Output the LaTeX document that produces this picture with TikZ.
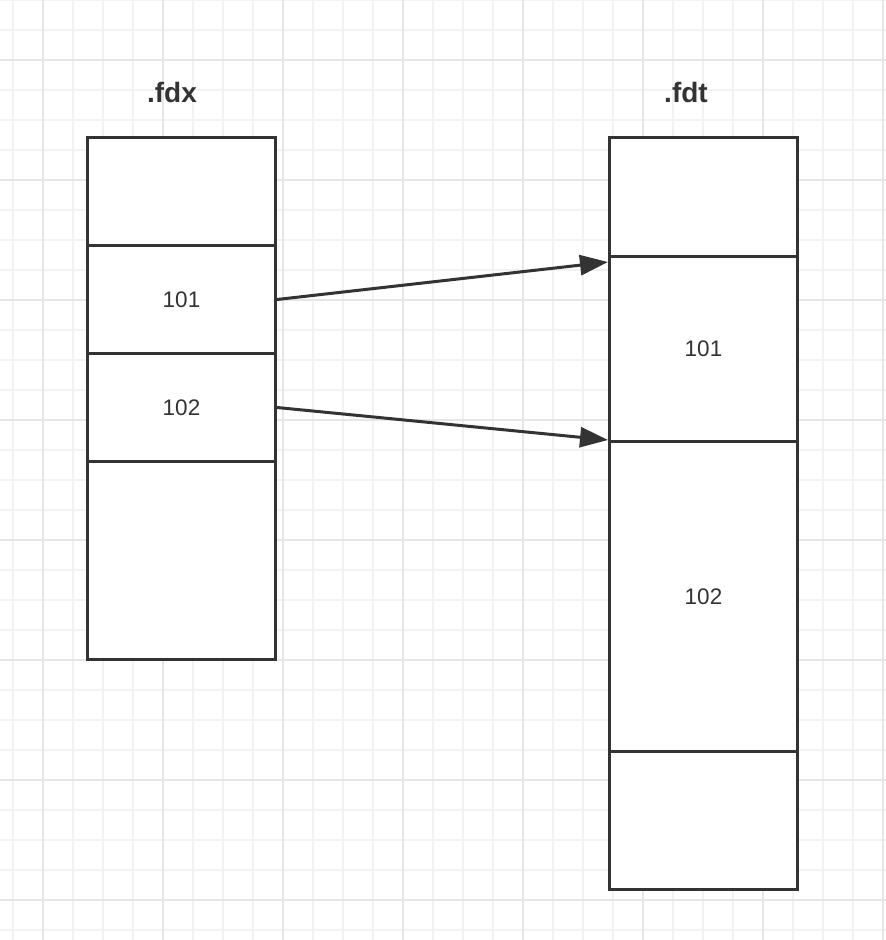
\documentclass[tikz,border=0pt]{standalone}
\usepackage{fontspec}
\setmainfont{Liberation Sans}
\usetikzlibrary{arrows.meta}
\definecolor{ink}{HTML}{333333}
\definecolor{gridminor}{HTML}{F2F2F2}
\definecolor{gridmajor}{HTML}{E6E6E6}
\tikzset{
  cell/.style={draw=ink, line width=3pt, fill=white, minimum width=188pt, anchor=north west, inner sep=0pt, font=\fontsize{22.5}{24}\selectfont, text=ink},
  title/.style={font=\bfseries\fontsize{28}{30}\selectfont, text=ink},
  arr/.style={draw=ink, line width=3pt, -{Triangle[length=28pt,width=20pt]}},
}
\begin{document}
\begin{tikzpicture}[x=1pt,y=-1pt]
\useasboundingbox (0,0) rectangle (886,940);
\fill[white] (0,0) rectangle (886,940);
% minor grid
\foreach \x in {13,43,...,883} \draw[gridminor, line width=1.2pt] (\x,0) -- (\x,940);
\foreach \y in {0,30,...,930} \draw[gridminor, line width=1.2pt] (0,\y) -- (886,\y);
% major grid
\foreach \x in {43,163,...,883} \draw[gridmajor, line width=1.6pt] (\x,0) -- (\x,940);
\foreach \y in {60,180,...,900} \draw[gridmajor, line width=1.6pt] (0,\y) -- (886,\y);

% titles
\node[title] (tfdx) at (172,92) {.fdx};
\node[title] (tfdt) at (686,92) {.fdt};

% left column (.fdx)
\node[cell, minimum height=108pt] (l1) at (86,136) {};
\node[cell, minimum height=108pt] (l2) at (86,244) {101};
\node[cell, minimum height=108pt] (l3) at (86,352) {102};
\node[cell, minimum height=198pt] (l4) at (86,460) {};

% right column (.fdt)
\node[cell, minimum height=119pt] (r1) at (608,136) {};
\node[cell, minimum height=185pt] (r2) at (608,255) {101};
\node[cell, minimum height=310pt] (r3) at (608,440) {102};
\node[cell, minimum height=138pt] (r4) at (608,750) {};

% arrows
\draw[arr] (l2.east) -- ([yshift=-7pt]r2.north west);
\draw[arr] (l3.east) -- (r3.north west);
\end{tikzpicture}
\end{document}
